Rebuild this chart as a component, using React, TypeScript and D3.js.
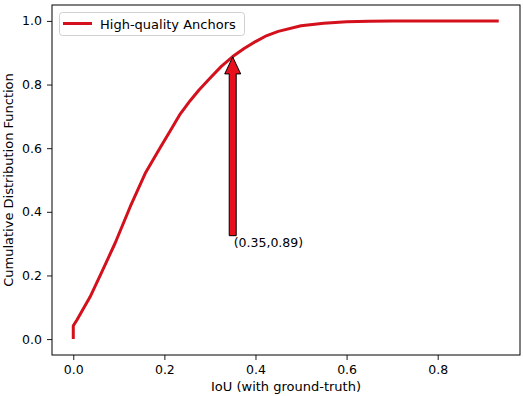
import * as React from 'react';
import {useEffect, useRef} from 'react';
import * as d3 from 'd3';

const iou = [0, 0, 0.008, 0.037, 0.063, 0.092, 0.125, 0.158, 0.191, 0.213, 0.235, 0.257, 0.276, 0.3, 0.325, 0.35, 0.375, 0.4, 0.425, 0.45, 0.5, 0.55, 0.6, 0.65, 0.7, 0.8, 0.934];
const cdf = [0, 0.042, 0.06, 0.133, 0.212, 0.302, 0.416, 0.521, 0.602, 0.655, 0.708, 0.75, 0.783, 0.82, 0.857, 0.888, 0.913, 0.935, 0.954, 0.967, 0.985, 0.993, 0.997, 0.999, 1.0, 1.0, 1.0];
const xTicks = [0, 0.2, 0.4, 0.6, 0.8];
const yTicks = [0, 0.2, 0.4, 0.6, 0.8, 1.0];
const seriesName = 'High-quality Anchors';
const marker = {x: 0.35, y: 0.89, tailY: 0.325, textY: 0.289, label: '(0.35,0.89)'};

const W = 523;
const H = 396;
const FONT = '"DejaVu Sans", sans-serif';

export default function App() {
    const ref = useRef<SVGSVGElement>(null);

    useEffect(() => {
        const margin = {top: 5, right: 3, bottom: 41, left: 52};
        const svg = d3.select(ref.current);
        svg.selectAll('*').remove();

        const x = d3.scaleLinear().domain([-0.0467, 0.9807]).range([margin.left, W - margin.right]);
        const y = d3.scaleLinear().domain([-0.05, 1.05]).range([H - margin.bottom, margin.top]);

        const xAxis = svg.append('g')
            .attr('transform', `translate(0, ${H - margin.bottom})`)
            .call(d3.axisBottom(x).tickValues(xTicks).tickFormat(d3.format('.1f')).tickSize(5).tickPadding(5));
        const yAxis = svg.append('g')
            .attr('transform', `translate(${margin.left}, 0)`)
            .call(d3.axisLeft(y).tickValues(yTicks).tickFormat(d3.format('.1f')).tickSize(5).tickPadding(5));
        [xAxis, yAxis].forEach(a => {
            a.select('.domain').remove();
            a.selectAll('text').attr('font-family', FONT).attr('font-size', 12.5).attr('fill', '#000');
            a.selectAll('line').attr('stroke', '#000').attr('stroke-width', 0.9);
        });

        // frame
        svg.append('rect')
            .attr('x', margin.left).attr('y', margin.top)
            .attr('width', W - margin.left - margin.right)
            .attr('height', H - margin.top - margin.bottom)
            .attr('fill', 'none').attr('stroke', '#000').attr('stroke-width', 1);

        const line = d3.line<number>()
            .x((d, i) => x(iou[i]))
            .y(d => y(d));

        svg.append('path')
            .datum(cdf)
            .attr('d', line)
            .attr('fill', 'none')
            .attr('stroke', '#d3101c')
            .attr('stroke-width', 3)
            .attr('stroke-linejoin', 'round');

        // arrow annotation
        const ax = x(marker.x);
        const tip = y(marker.y) + 1;
        const tail = y(marker.tailY);
        const shaftW = 3.5, headW = 8, headL = 17;
        const arrow = [
            [ax - shaftW, tail], [ax - shaftW, tip + headL], [ax - headW, tip + headL],
            [ax, tip], [ax + headW, tip + headL], [ax + shaftW, tip + headL], [ax + shaftW, tail],
        ];
        svg.append('path')
            .attr('d', d3.line()(arrow as [number, number][]) + 'Z')
            .attr('fill', '#e8101c')
            .attr('stroke', '#000')
            .attr('stroke-width', 1)
            .attr('stroke-linejoin', 'miter');

        svg.append('text')
            .attr('x', ax + 1).attr('y', y(marker.textY))
            .attr('font-family', FONT).attr('font-size', 12.5)
            .text(marker.label);

        // legend
        const lg = svg.append('g');
        lg.append('rect')
            .attr('x', 59.5).attr('y', 12.5).attr('width', 185).attr('height', 23)
            .attr('rx', 3).attr('fill', '#fff').attr('fill-opacity', 0.8)
            .attr('stroke', '#d0d0d0').attr('stroke-width', 1);
        lg.append('line')
            .attr('x1', 63).attr('x2', 92).attr('y1', 23.5).attr('y2', 23.5)
            .attr('stroke', '#d3101c').attr('stroke-width', 3);
        lg.append('text')
            .attr('x', 100).attr('y', 28.5)
            .attr('font-family', FONT).attr('font-size', 13)
            .text(seriesName);

        // axis labels
        svg.append('text')
            .attr('x', (margin.left + W - margin.right) / 2).attr('y', 391)
            .attr('text-anchor', 'middle')
            .attr('font-family', FONT).attr('font-size', 13)
            .text('IoU (with ground-truth)');
        svg.append('text')
            .attr('transform', `translate(13, ${(margin.top + H - margin.bottom) / 2}) rotate(-90)`)
            .attr('text-anchor', 'middle')
            .attr('font-family', FONT).attr('font-size', 13)
            .text('Cumulative Distribution Function');
    }, []);

    return (
        <svg ref={ref} width={W} height={H}
             style={{position: 'absolute', left: 0, top: 0, background: '#fff'}} />
    );
}
